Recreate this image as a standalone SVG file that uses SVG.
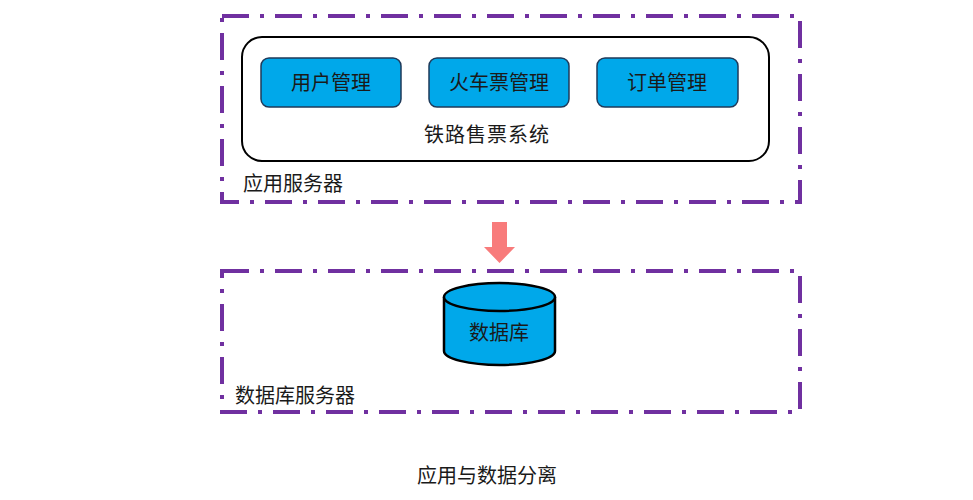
<svg xmlns="http://www.w3.org/2000/svg" width="973" height="500" viewBox="0 0 973 500">
<style>
.zone{fill:none;stroke:#7030A0;stroke-width:4;stroke-dasharray:27 11 4 11}
.mod{fill:#00A8EA;stroke:#1f3a5a;stroke-width:1.5}
.t{font-family:"Noto Sans CJK SC","Noto Sans CJK TC",sans-serif;font-size:20px;fill:#1a1a1a}
.c{text-anchor:middle}
</style>
<rect width="973" height="500" fill="#ffffff"/>
<g id="app-server">
<rect class="zone" x="222" y="16" width="578" height="186"/>
<text class="t" x="243" y="191" font-size="19">应用服务器</text>
</g>
<g id="railway-system">
<rect x="242" y="37" width="527" height="124" rx="20" fill="#ffffff" stroke="#000" stroke-width="2"/>
<text class="t c" x="487" y="142" letter-spacing="1">铁路售票系统</text>
</g>
<g id="user-mgmt">
<rect class="mod" x="261" y="58" width="140" height="49" rx="8"/>
<text class="t c" x="331" y="90">用户管理</text>
</g>
<g id="ticket-mgmt">
<rect class="mod" x="429" y="58" width="140" height="49" rx="8"/>
<text class="t c" x="499" y="90">火车票管理</text>
</g>
<g id="order-mgmt">
<rect class="mod" x="597" y="58" width="141" height="49" rx="8"/>
<text class="t c" x="667" y="90">订单管理</text>
</g>
<g id="connectors">
<polygon points="492,222 507,222 507,247 515,247 499.5,263 484,247 492,247" fill="#F87B7B"/>
</g>
<g id="db-server">
<rect class="zone" x="222" y="271" width="578" height="141"/>
<text class="t" x="235" y="403" font-size="19">数据库服务器</text>
</g>
<g id="database">
<path d="M444,297 V351 A55.5,14 0 0 0 555,351 V297" fill="#00A8EA" stroke="#000" stroke-width="2.5"/>
<ellipse cx="499.5" cy="297" rx="55.5" ry="14" fill="#00A8EA" stroke="#000" stroke-width="2.5"/>
<text class="t c" x="499" y="340">数据库</text>
</g>
<text class="t c" x="487" y="483">应用与数据分离</text>
</svg>
